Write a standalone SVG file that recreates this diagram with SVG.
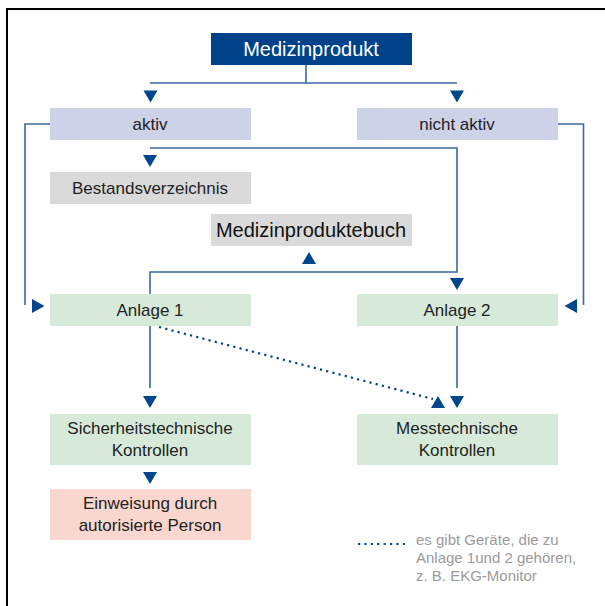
<svg xmlns="http://www.w3.org/2000/svg" width="605" height="606" viewBox="0 0 605 606">
<style>
text{font-family:"Liberation Sans",Arial,sans-serif;text-anchor:middle;fill:#222}
.lbl{font-size:17px}
.big{font-size:20px}
.lav{fill:#cdd2e8}
.gry{fill:#dadada}
.grn{fill:#d7eada}
.pnk{fill:#f9d7cf}
.ln{fill:none;stroke:#3b67a3;stroke-width:1.6}
.dot{fill:none;stroke:#00468c;stroke-width:2.2;stroke-dasharray:2.2 4.2}
.ah{fill:#00468c}
.leg{font-size:15px;fill:#9a9a9a;text-anchor:start}
</style>
<rect width="605" height="606" fill="#fff"/>
<path d="M7,606 V9 H605" fill="none" stroke="#000" stroke-width="2"/>
<g id="connectors">
<path class="ln" d="M306,65 V83 M150,83 H457"/>
<path class="ln" d="M50,124 H25 V305 M558,124 H583.5 V305"/>
<path class="ln" d="M150,148 H457 V272 H150 V294"/>
<path class="ln" d="M150,326 V388 M457,326 V388"/>
<path class="dot" d="M159,327 L433,399"/>
<polygon class="ah" points="143.5,90.5 157.5,90.5 150.5,102.5"/>
<polygon class="ah" points="450,90.5 464,90.5 457,102.5"/>
<polygon class="ah" points="143,155 157,155 150,167"/>
<polygon class="ah" points="450,278 464,278 457,290"/>
<polygon class="ah" points="302,264 316,264 309,252"/>
<polygon class="ah" points="32,299 32,313 44.5,306"/>
<polygon class="ah" points="577,299 577,313 564.5,306"/>
<polygon class="ah" points="143,396 157,396 150,408"/>
<polygon class="ah" points="450,396 464,396 457,408"/>
<polygon class="ah" points="431,408 445,408 438,396"/>
<polygon class="ah" points="143,472 157,472 150,484"/>
</g>
<g id="medizinprodukt"><rect x="211" y="33" width="201" height="32" fill="#00428a"/><text class="big" x="311" y="56" style="fill:#fff">Medizinprodukt</text></g>
<g id="aktiv"><rect class="lav" x="50" y="108" width="201" height="32"/><text class="lbl" x="150" y="130">aktiv</text></g>
<g id="nicht-aktiv"><rect class="lav" x="357" y="108" width="201" height="32"/><text class="lbl" x="457" y="130">nicht aktiv</text></g>
<g id="bestandsverzeichnis"><rect class="gry" x="50" y="172" width="201" height="32"/><text class="lbl" x="150" y="194">Bestandsverzeichnis</text></g>
<g id="medizinproduktebuch"><rect class="gry" x="211" y="214" width="201" height="32"/><text class="big" x="311" y="237" style="fill:#111">Medizinproduktebuch</text></g>
<g id="anlage1"><rect class="grn" x="50" y="294" width="201" height="32"/><text class="lbl" x="150" y="316">Anlage 1</text></g>
<g id="anlage2"><rect class="grn" x="357" y="294" width="201" height="32"/><text class="lbl" x="457" y="316">Anlage 2</text></g>
<g id="sicherheitstechnische"><rect class="grn" x="50" y="414" width="201" height="51"/><text class="lbl" x="150" y="434">Sicherheitstechnische</text><text class="lbl" x="150" y="455.5">Kontrollen</text></g>
<g id="messtechnische"><rect class="grn" x="357" y="414" width="201" height="51"/><text class="lbl" x="457" y="434">Messtechnische</text><text class="lbl" x="457" y="455.5">Kontrollen</text></g>
<g id="einweisung"><rect class="pnk" x="50" y="489" width="201" height="51"/><text class="lbl" x="150" y="509">Einweisung durch</text><text class="lbl" x="150" y="531">autorisierte Person</text></g>
<g id="legend">
<path class="dot" d="M358,544 H408"/>
<text class="leg" x="416" y="545">es gibt Geräte, die zu</text>
<text class="leg" x="416" y="563">Anlage 1und 2 gehören,</text>
<text class="leg" x="416" y="581">z. B. EKG-Monitor</text>
</g>
</svg>
